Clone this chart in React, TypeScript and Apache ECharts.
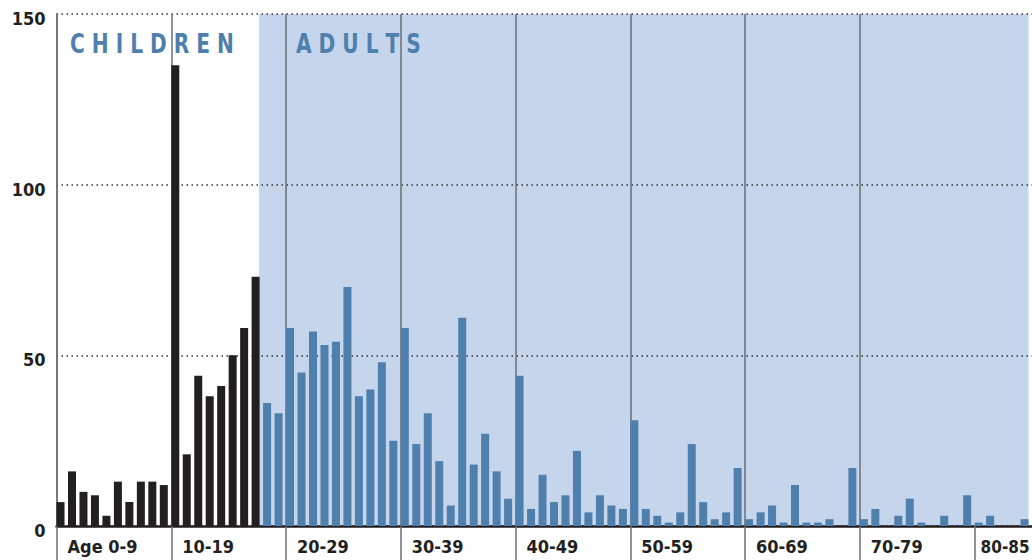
import React, { useEffect, useRef } from "react";
import * as echarts from "echarts";

// Counts by single year of age (index = age)
const counts0to9 = [7, 16, 10, 9, 3, 13, 7, 13, 13, 12];
const counts10to19 = [135, 21, 44, 38, 41, 50, 58, 73, 36, 33];
const counts20to29 = [58, 45, 57, 53, 54, 70, 38, 40, 48, 25];
const counts30to39 = [58, 24, 33, 19, 6, 61, 18, 27, 16, 8];
const counts40to49 = [44, 5, 15, 7, 9, 22, 4, 9, 6, 5];
const counts50to59 = [31, 5, 3, 1, 4, 24, 7, 2, 4, 17];
const counts60to69 = [2, 4, 6, 1, 12, 1, 1, 2, 0, 17];
const counts70to79 = [2, 5, 0, 3, 8, 1, 0, 3, 0, 9];
const counts80to85 = [1, 3, 0, 0, 2];

const ADULT_AGE = 18;
const decadeStarts = [0, 10, 20, 30, 40, 50, 60, 70, 80];
const decadeLabels = ["Age 0-9", "10-19", "20-29", "30-39", "40-49", "50-59", "60-69", "70-79", "80-85"];
const yTicks = [0, 50, 100, 150];
const groupLabels = ["C H I L D R E N", "A D U L T S"];

const FONT = "'Liberation Sans Narrow', 'DejaVu Sans Condensed', 'Roboto Condensed', sans-serif";
const BLACK = "#231f20";
const BLUE = "#4f7fad";
const SHADE = "#c5d5ec";
const LINE_GRAY = "#6b6e76";

export default function App() {
  const ref = useRef<HTMLDivElement>(null);

  useEffect(() => {
    if (!ref.current) return;
    const chart = echarts.init(ref.current, undefined, { renderer: "svg" });

    const counts = [
      ...counts0to9, ...counts10to19, ...counts20to29, ...counts30to39,
      ...counts40to49, ...counts50to59, ...counts60to69, ...counts70to79, ...counts80to85,
    ];
    const BAR_FRAC = 0.7;
    const data = counts.map((v, age) => ({
      value: [age + BAR_FRAC / 2, v],
      itemStyle: { color: age < ADULT_AGE ? BLACK : BLUE },
    }));
    const maxAge = counts.length;
    const labelBase = {
      fontFamily: FONT,
      fontWeight: "bold",
      color: BLACK,
      lineHeight: 21,
    };

    chart.setOption({
      animation: false,
      grid: {
        left: 56.5,
        right: 0,
        top: 14,
        bottom: 34,
        containLabel: false,
        outerBoundsMode: "none",
      },
      xAxis: {
        type: "value",
        min: 0,
        max: maxAge,
        interval: 10,
        axisLine: { show: true, lineStyle: { color: BLACK, width: 2.5 } },
        axisTick: {
          show: true,
          length: 34,
          customValues: decadeStarts,
          lineStyle: { color: LINE_GRAY, width: 1.5 },
        },
        axisLabel: {
          customValues: decadeStarts,
          formatter: (v: number) => {
            const i = decadeStarts.indexOf(Math.round(v));
            if (i < 0) return "";
            return i === decadeLabels.length - 1 ? `{b|${decadeLabels[i]}}` : `{a|${decadeLabels[i]}}`;
          },
          align: "left",
          verticalAlign: "top",
          margin: 10,
          fontFamily: FONT,
          fontWeight: "bold",
          fontSize: 18,
          color: BLACK,
          rich: {
            a: { ...labelBase, fontSize: 18, padding: [0, 0, 0, 11] },
            b: { ...labelBase, fontSize: 17, padding: [0, 0, 0, 6] },
          },
        },
        splitLine: {
          show: true,
          showMaxLine: false,
          lineStyle: { color: LINE_GRAY, width: 1.5, type: "solid" },
        },
      },
      yAxis: {
        type: "value",
        min: yTicks[0],
        max: yTicks[yTicks.length - 1],
        interval: 50,
        axisLine: { show: true, lineStyle: { color: LINE_GRAY, width: 1.5 } },
        axisTick: { show: false },
        axisLabel: {
          margin: 11,
          fontFamily: FONT,
          fontWeight: "bold",
          fontSize: 18,
          color: BLACK,
          verticalAlign: "top",
          lineHeight: 9,
        },
        splitLine: {
          show: true,
          lineStyle: { color: "#333333", width: 1.5, type: [1.5, 3.5] },
        },
      },
      graphic: [
        {
          type: "text",
          x: 70,
          y: 44,
          scaleX: 0.83,
          z: 10,
          style: {
            text: groupLabels[0],
            fontFamily: FONT,
            fontWeight: "bold",
            fontSize: 27,
            fill: BLUE,
            verticalAlign: "middle",
          },
        },
        {
          type: "text",
          x: 296,
          y: 44,
          scaleX: 0.83,
          z: 10,
          style: {
            text: groupLabels[1],
            fontFamily: FONT,
            fontWeight: "bold",
            fontSize: 27,
            fill: BLUE,
            verticalAlign: "middle",
          },
        },
      ],
      series: [
        {
          type: "bar",
          barWidth: 8,
          data,
          z: 3,
          markArea: {
            silent: true,
            z: -1,
            itemStyle: { color: SHADE },
            data: [[{ xAxis: ADULT_AGE - 1 + BAR_FRAC - 0.05 }, { xAxis: maxAge - 1 + BAR_FRAC }]],
          },
        },
      ],
    });

    return () => chart.dispose();
  }, []);

  return <div ref={ref} style={{ width: 1032, height: 560, position: "absolute", left: 0, top: 0 }} />;
}
